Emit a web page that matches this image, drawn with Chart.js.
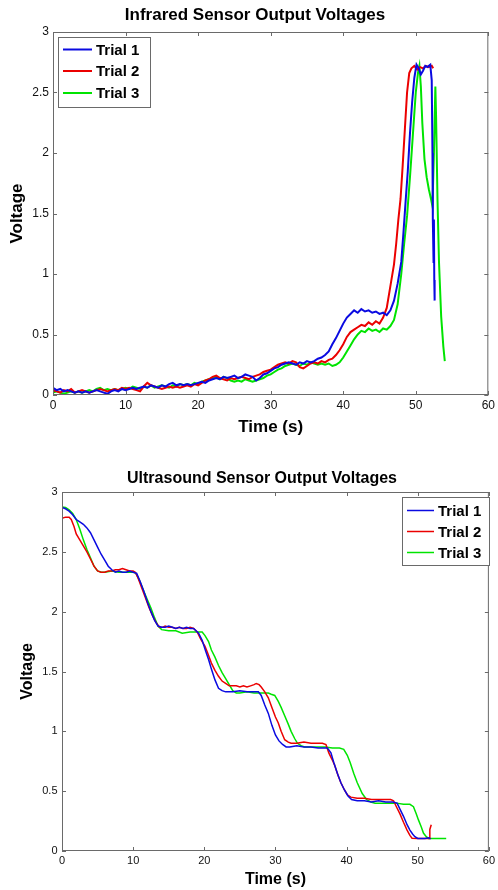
<!DOCTYPE html>
<html>
<head>
<meta charset="utf-8">
<script src="https://cdn.jsdelivr.net/npm/chart.js@4.4.1/dist/chart.umd.min.js"></script>
<style>
body{margin:0;background:#fff}
canvas{display:block}
</style>
</head>
<body>
<canvas id="irChart" width="498" height="445"></canvas>
<canvas id="usChart" width="498" height="445"></canvas>
<script>

const trialNames = ["Trial 1", "Trial 2", "Trial 3"]
const trialColors = ["rgb(10,10,225)", "rgb(235,0,0)", "rgb(0,228,0)"]

const xTicks = [0, 10, 20, 30, 40, 50, 60]
const yTicks = [0, 0.5, 1, 1.5, 2, 2.5, 3]

// infrared sensor, 0 - 39.5 s is shared by all three trials
const irTimeBase = [
0,0.5,1,1.5,2,2.5,3,3.5,4,4.5,5,5.5,6,6.5,7,7.5,8,8.5,9,9.5,
10,10.5,11,11.5,12,12.5,13,13.5,14,14.5,15,15.5,16,16.5,17,17.5,18,18.5,19,19.5,
20,20.5,21,21.5,22,22.5,23,23.5,24,24.5,25,25.5,26,26.5,27,27.5,28,28.5,29,29.5,
30,30.5,31,31.5,32,32.5,33,33.5,34,34.5,35,35.5,36,36.5,37,37.5,38,38.5,39,39.5]

const irTime1 = irTimeBase.concat([40,40.5,41,41.5,42,42.5,43,43.5,44,44.5,45,45.5,46,46.5,
47,47.5,48,48.3,48.6,48.9,49.2,49.5,49.8,50.1,50.4,50.7,51,51.3,51.6,52,52.2,52.3,52.35,52.45,52.5,52.55,52.6])
const irVolt1 = [
0.06,0.04,0.05,0.03,0.04,0.03,0.02,0.03,0.02,0.03,0.02,0.03,0.04,0.03,0.02,0.01,0.03,0.04,0.03,0.05,
0.04,0.05,0.06,0.05,0.06,0.07,0.06,0.08,0.07,0.06,0.08,0.07,0.09,0.10,0.08,0.09,0.08,0.09,0.08,0.09,
0.10,0.11,0.10,0.12,0.13,0.14,0.13,0.15,0.14,0.15,0.16,0.14,0.15,0.17,0.16,0.15,0.12,0.14,0.17,0.18,
0.20,0.22,0.23,0.25,0.26,0.27,0.26,0.25,0.27,0.26,0.28,0.27,0.28,0.30,0.31,0.33,0.36,0.42,0.47,0.53,
0.59,0.64,0.67,0.70,0.68,0.71,0.69,0.70,0.68,0.69,0.67,0.68,0.66,0.70,
0.78,0.92,1.10,1.34,1.60,1.85,2.16,2.42,2.62,2.73,2.70,2.65,2.68,2.72,2.71,2.73,2.60,2.00,1.45,1.10,1.45,0.95,0.78]

const irTime2 = irTimeBase.concat([40,40.5,41,41.5,42,42.5,43,43.5,44,44.5,45,45.5,46,46.5,
47,47.3,47.6,47.9,48.2,48.5,48.8,49.1,49.4,49.8,50.2,50.6,51,51.4,51.8,52.2,52.4])
const irVolt2 = [
0.04,0.03,0.02,0.04,0.03,0.05,0.02,0.03,0.04,0.03,0.02,0.03,0.04,0.05,0.04,0.03,0.04,0.05,0.04,0.06,
0.05,0.06,0.05,0.04,0.03,0.07,0.10,0.08,0.07,0.06,0.05,0.06,0.07,0.06,0.07,0.06,0.07,0.08,0.07,0.09,
0.08,0.10,0.12,0.13,0.15,0.16,0.14,0.13,0.12,0.14,0.13,0.14,0.15,0.14,0.13,0.15,0.16,0.17,0.19,0.20,
0.21,0.23,0.25,0.26,0.27,0.26,0.28,0.27,0.23,0.22,0.24,0.26,0.27,0.26,0.28,0.27,0.29,0.30,0.33,0.37,
0.42,0.48,0.52,0.54,0.56,0.58,0.57,0.60,0.58,0.61,0.59,0.64,0.72,0.90,
1.08,1.25,1.45,1.62,1.90,2.20,2.50,2.66,2.70,2.72,2.69,2.71,2.70,2.72,2.71,2.72,2.70]

const irTime3 = irTimeBase.concat([40,40.5,41,41.5,42,42.5,43,43.5,44,44.5,45,45.5,46,46.5,
47,47.5,48,48.4,48.8,49.2,49.6,50,50.3,50.5,50.7,50.9,51.2,51.5,51.8,52.1,52.3,52.5,52.7,52.8,
53,53.2,53.5,53.8,54])
const irVolt3 = [
0.02,0.03,0.02,0.01,0.02,0.03,0.02,0.03,0.02,0.03,0.04,0.03,0.05,0.06,0.04,0.05,0.04,0.05,0.04,0.05,
0.06,0.05,0.07,0.06,0.05,0.07,0.06,0.08,0.06,0.07,0.08,0.07,0.06,0.08,0.07,0.09,0.08,0.09,0.08,0.10,
0.09,0.11,0.12,0.13,0.14,0.15,0.13,0.15,0.14,0.12,0.11,0.12,0.11,0.13,0.12,0.11,0.12,0.13,0.14,0.16,
0.17,0.19,0.21,0.22,0.24,0.25,0.26,0.25,0.24,0.26,0.25,0.27,0.26,0.25,0.26,0.25,0.26,0.24,0.25,0.27,
0.31,0.36,0.41,0.46,0.50,0.53,0.52,0.55,0.53,0.54,0.52,0.55,0.54,0.57,
0.62,0.75,1.00,1.25,1.48,1.80,2.15,2.50,2.66,2.72,2.55,2.25,1.95,1.80,1.70,1.62,1.56,2.00,2.55,2.30,
1.60,1.10,0.65,0.40,0.28]

// ultrasound sensor
const usTime1 = [0,0.5,1,1.5,2,2.5,3,3.5,4,4.5,5,5.5,6,6.5,7,7.5,8,8.5,9,9.5,
10,10.5,11,11.5,12,12.5,13,13.5,14,14.5,15,15.5,16,16.5,17,17.5,18,18.5,
19.2,19.7,20.2,20.6,21,21.5,22,22.5,23,24,25,26,27,27.6,28,28.5,29,29.5,30,30.5,31,31.5,32,
33,34,35,36,37.3,37.8,38.2,38.7,39.2,39.7,40.2,40.7,41.5,42.5,43.5,44.5,45.5,46.5,47.1,
47.5,48,48.5,48.9,49.3,49.6,50,51,51.6,51.8]
const usVolt1 = [2.87,2.86,2.84,2.81,2.77,2.75,2.73,2.70,2.66,2.60,
2.54,2.48,2.43,2.38,2.35,2.33,2.34,2.33,2.33,2.34,
2.33,2.32,2.25,2.17,2.08,2.00,1.93,1.88,1.87,1.87,1.88,1.87,1.86,1.87,1.86,1.87,1.86,1.86,
1.82,1.76,1.67,1.60,1.52,1.43,1.36,1.34,1.33,1.33,1.34,1.33,1.33,1.33,1.30,1.22,1.15,1.05,0.97,0.92,0.89,0.87,0.87,
0.88,0.87,0.87,0.86,0.86,0.82,0.74,0.65,0.57,0.51,0.46,0.43,0.42,0.42,0.41,0.42,0.41,0.41,0.40,
0.35,0.29,0.22,0.175,0.14,0.12,0.105,0.105,0.11,0.10]

const usTime2 = [0,0.5,1,1.3,1.7,2,2.5,3,3.5,4,4.5,5,5.5,6,6.5,7,7.5,8,8.5,9,
9.5,10,10.3,10.7,11.2,11.7,12.2,12.7,13.2,13.7,14.2,14.5,15,15.5,16,16.5,17,17.5,18,18.5,
19,19.5,20.1,20.5,21,21.5,22,22.5,23,23.5,24,24.5,25,25.5,26,26.5,27,27.3,27.7,28,
28.5,29,29.5,30,30.4,30.8,31.3,31.8,32.2,33,34,35,36,36.6,37.1,37.5,38,38.3,38.8,39.2,
39.7,40.1,40.6,41.5,42.5,43.5,44.5,45.5,46.2,46.6,47,47.5,48,48.5,48.9,49.2,50,51,51.6,51.7,51.9]
const usVolt2 = [2.78,2.79,2.79,2.77,2.71,2.65,2.60,2.55,2.50,2.44,2.38,2.34,2.33,2.33,2.34,2.34,2.35,2.35,2.36,2.35,
2.34,2.34,2.33,2.28,2.20,2.12,2.04,1.97,1.91,1.87,1.87,1.88,1.87,1.87,1.86,1.87,1.86,1.86,1.87,1.86,
1.83,1.77,1.71,1.65,1.57,1.51,1.46,1.42,1.40,1.38,1.38,1.38,1.37,1.38,1.37,1.38,1.39,1.40,1.39,1.37,
1.33,1.28,1.20,1.12,1.07,1.00,0.93,0.91,0.90,0.90,0.91,0.90,0.90,0.90,0.89,0.82,0.76,0.72,0.63,0.57,
0.51,0.47,0.45,0.44,0.44,0.43,0.43,0.43,0.43,0.42,0.37,0.31,0.24,0.175,0.13,0.106,0.105,0.105,0.105,0.18,0.22]

const usTime3 = [0,0.5,1,1.5,2,2.5,3,3.5,4,4.5,5,5.5,6,7,8,9,10,10.4,10.9,11.5,
12,12.5,13,13.5,14,15,16,16.9,18,19,19.7,20.1,20.6,21,21.5,22,22.5,22.9,23.5,24,
24.5,25,26,27,28,29,29.4,29.9,30.4,30.8,31.3,31.8,32.2,32.7,33.1,33.6,34.1,35,36,37,
38,39,39.6,40.1,40.5,41,41.5,42.2,42.8,43.4,44,45,46,47,48,48.9,49.4,49.8,50.1,50.5,
50.8,51.2,51.5,52,53,54]
const usVolt3 = [2.875,2.87,2.85,2.82,2.77,2.69,2.60,2.52,2.45,2.38,2.34,2.33,2.33,2.34,2.33,2.33,2.33,2.32,2.26,2.17,
2.10,2.03,1.95,1.88,1.85,1.84,1.84,1.82,1.83,1.83,1.83,1.80,1.75,1.68,1.62,1.55,1.49,1.45,1.39,1.34,
1.32,1.32,1.33,1.32,1.32,1.32,1.31,1.30,1.25,1.20,1.13,1.06,1.00,0.94,0.90,0.88,0.87,0.87,0.87,0.87,
0.86,0.86,0.85,0.80,0.74,0.65,0.57,0.48,0.43,0.41,0.40,0.40,0.40,0.40,0.39,0.39,0.37,0.31,0.26,0.20,
0.15,0.12,0.105,0.105,0.105,0.105]


const fontFamily = '"Liberation Sans", Arial, Helvetica, sans-serif'

function points(t, v){
return t.map((x,i) => ({x:x, y:v[i]}))
}

// matlab style box, inward ticks, title and legend
const matlabAxes = {
id:'matlabAxes',
afterDatasetsDraw(chart, args, o){
const ctx = chart.ctx
const a = chart.chartArea
const sx = chart.scales.x, sy = chart.scales.y
ctx.save()
ctx.strokeStyle = '#6a6a6a'
ctx.lineWidth = 1
ctx.strokeRect(a.left+0.5, a.top+0.5, a.width-1, a.height-1)
ctx.beginPath()
xTicks.forEach(v => {
const px = Math.round(sx.getPixelForValue(v))+0.5
ctx.moveTo(px, a.bottom); ctx.lineTo(px, a.bottom-4)
ctx.moveTo(px, a.top); ctx.lineTo(px, a.top+4)
})
yTicks.forEach(v => {
const py = Math.round(sy.getPixelForValue(v))+0.5
ctx.moveTo(a.left, py); ctx.lineTo(a.left+4, py)
ctx.moveTo(a.right, py); ctx.lineTo(a.right-4, py)
})
ctx.stroke()
ctx.restore()
},
afterDraw(chart, args, o){
const ctx = chart.ctx
ctx.save()
// title
ctx.fillStyle = '#000'
ctx.font = 'bold ' + o.titleSize + 'px ' + fontFamily
ctx.textAlign = 'center'
ctx.textBaseline = 'alphabetic'
ctx.fillText(o.title, o.titleX, o.titleY)
// legend
const L = o.legend
ctx.fillStyle = '#fff'
ctx.fillRect(L.x, L.y, L.w, L.h)
ctx.strokeStyle = '#6a6a6a'
ctx.lineWidth = 1
ctx.strokeRect(L.x+0.5, L.y+0.5, L.w, L.h)
ctx.font = 'bold ' + L.size + 'px ' + fontFamily
ctx.textAlign = 'left'
ctx.textBaseline = 'middle'
chart.data.datasets.forEach((d,i) => {
const y = L.rows[i]
ctx.strokeStyle = d.borderColor
ctx.lineWidth = d.borderWidth
ctx.beginPath()
ctx.moveTo(L.x1, y); ctx.lineTo(L.x2, y)
ctx.stroke()
ctx.fillStyle = '#000'
ctx.fillText(d.label, L.tx, y+1)
})
ctx.restore()
}
}

function makeChart(id, times, volts, s){
const datasets = times.map((t,i) => ({
label: trialNames[i],
data: points(t, volts[i]),
borderColor: trialColors[i],
borderWidth: s.lineWidth,
pointRadius: 0,
fill: false,
tension: 0
}))
return new Chart(document.getElementById(id), {
type:'line',
data:{datasets:datasets},
options:{
responsive:false,
animation:false,
devicePixelRatio:1,
layout:{padding:{left:0, top:s.top, right:498-s.right, bottom:0}},
plugins:{
legend:{display:false},
tooltip:{enabled:false},
matlabAxes:{title:s.title, titleX:s.titleX, titleY:s.titleY, titleSize:s.titleSize, legend:s.legend}
},
scales:{
x:{
type:'linear', min:0, max:60,
grid:{display:false, drawTicks:false},
border:{display:false},
afterBuildTicks: sc => { sc.ticks = xTicks.map(v => ({value:v})) },
ticks:{color:'#111', padding:s.xPad, maxRotation:0, autoSkip:false, callback: v => String(v), font:{size:s.tickSize, family:fontFamily}},
title:{display:true, text:'Time (s)', color:'#000', padding:{top:0, bottom:s.xTitlePad}, font:{size:s.labelSize, weight:'bold', family:fontFamily}},
afterFit: sc => { sc.height = 445 - s.bottom }
},
y:{
type:'linear', min:0, max:3,
grid:{display:false, drawTicks:false},
border:{display:false},
afterBuildTicks: sc => { sc.ticks = yTicks.map(v => ({value:v})) },
ticks:{color:'#111', padding:s.yPad, callback: v => String(v), font:{size:s.tickSize, family:fontFamily}},
title:{display:true, text:'Voltage', color:'#000', padding:{top:s.yTitlePad, bottom:0}, font:{size:s.labelSize, weight:'bold', family:fontFamily}},
afterFit: sc => { sc.width = s.left }
}
}
},
plugins:[matlabAxes]
})
}

makeChart('irChart', [irTime1, irTime2, irTime3], [irVolt1, irVolt2, irVolt3], {
left:53, right:492, top:32, bottom:395,
lineWidth:2, tickSize:12, labelSize:17, titleSize:17,
xPad:3, yPad:4, xTitlePad:7.8, yTitlePad:6.8,
title:'Infrared Sensor Output Voltages', titleX:255, titleY:20,
legend:{x:58, y:37, w:92, h:70, rows:[49.5,71,93], x1:63, x2:92, tx:96, size:15}
})

makeChart('usChart', [usTime1, usTime2, usTime3], [usVolt1, usVolt2, usVolt3], {
left:62, right:493, top:47, bottom:406,
lineWidth:1.5, tickSize:11, labelSize:16, titleSize:16,
xPad:3, yPad:4.5, xTitlePad:0.4, yTitlePad:17.9,
title:'Ultrasound Sensor Output Voltages', titleX:262, titleY:37.5,
legend:{x:402, y:52, w:87, h:68, rows:[65.5,86.5,107.5], x1:407, x2:434, tx:438, size:15}
})

</script>
</body>
</html>
